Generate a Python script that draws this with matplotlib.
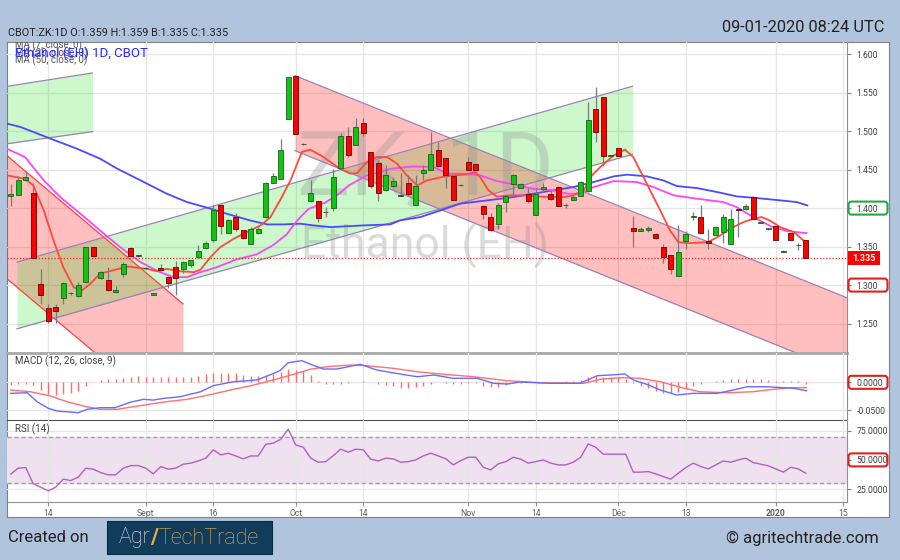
import numpy as np
import pandas as pd
import matplotlib
matplotlib.use("Agg")
import matplotlib.pyplot as plt
import matplotlib.transforms as mtransforms
from matplotlib.patches import Rectangle, FancyBboxPatch

plt.rcParams['font.family'] = ['Roboto', 'DejaVu Sans']

# trading calendar (exchange holidays skipped)
holidays = pd.to_datetime(['2019-09-02', '2019-11-28', '2019-12-25', '2020-01-01'])
days = pd.bdate_range('2019-08-07', '2020-01-15')
days = days[~days.isin(holidays)]

nan = np.nan
opens = [1.4155, 1.4175, 1.437, 1.4195, 1.302, 1.270, 1.2709, 1.2826, 1.2895, 1.2861,
         1.3034, 1.349, 1.3086, 1.3064, 1.2904, 1.3138, 1.348, 1.338, 1.3220, 1.2875,
         1.3228, 1.3108, 1.3238, 1.321, 1.326, 1.336, 1.348, 1.358, 1.4035, 1.368,
         1.389, 1.371, 1.354, 1.3675, 1.388, 1.433, 1.438, 1.516, 1.5715, 1.483,
         1.409, 1.409, 1.3945, 1.400, 1.4515, 1.493, 1.4825, 1.5105, 1.473, 1.458,
         1.424, 1.429, 1.416, 1.4325, 1.404, 1.445, 1.4495, 1.476, 1.465, 1.442,
         1.4295, 1.460, 1.457, 1.403, 1.389, 1.379, 1.408, 1.431, 1.426, 1.418,
         1.391, 1.4245, 1.418, 1.428, 1.4035, 1.411, 1.416, 1.422, 1.5285, 1.544,
         1.4675, 1.4785, nan, 1.3745, 1.370, 1.371, 1.3667, 1.350, 1.3385, 1.3116,
         1.357, 1.3885, 1.389, 1.357, 1.3655, 1.369, 1.3537, 1.3985, 1.399, 1.415,
         1.3805, 1.3725, 1.3766, 1.3435, 1.367, 1.352, 1.359]
highs = [1.431, 1.442, 1.448, 1.4325, 1.3207, 1.2752, 1.2752, 1.304, 1.2915, 1.304,
         1.349, 1.350, 1.3177, 1.323, 1.2986, 1.3294, 1.350, 1.339, 1.3235, 1.290,
         1.328, 1.312, 1.3313, 1.331, 1.333, 1.352, 1.357, 1.404, 1.405, 1.386,
         1.393, 1.372, 1.375, 1.376, 1.434, 1.445, 1.490, 1.570, 1.572, 1.484,
         1.437, 1.409, 1.401, 1.451, 1.498, 1.505, 1.5165, 1.5165, 1.473, 1.463,
         1.456, 1.4405, 1.446, 1.4425, 1.4425, 1.456, 1.499, 1.4855, 1.465, 1.442,
         1.431, 1.466, 1.457, 1.404, 1.394, 1.4065, 1.417, 1.444, 1.4325, 1.4265,
         1.4265, 1.4325, 1.424, 1.4285, 1.4065, 1.4165, 1.435, 1.5375, 1.557, 1.544,
         1.469, 1.4785, nan, 1.3896, 1.375, 1.377, 1.368, 1.354, 1.3385, 1.378,
         1.370, 1.395, 1.4035, 1.373, 1.377, 1.3925, 1.399, 1.3995, 1.405, 1.4155,
         1.382, 1.374, 1.3766, 1.345, 1.367, 1.355, 1.359]
lows = [1.403, 1.4165, 1.4355, 1.3346, 1.2752, 1.2514, 1.2514, 1.2752, 1.2875, 1.285,
        1.3025, 1.336, 1.3073, 1.292, 1.290, 1.311, 1.337, 1.337, 1.321, 1.2865,
        1.318, 1.2965, 1.2874, 1.316, 1.324, 1.334, 1.347, 1.356, 1.366, 1.367,
        1.370, 1.360, 1.353, 1.366, 1.387, 1.432, 1.438, 1.516, 1.4965, 1.482,
        1.408, 1.3815, 1.388, 1.396, 1.451, 1.466, 1.482, 1.494, 1.4256, 1.4096,
        1.422, 1.428, 1.416, 1.4155, 1.4035, 1.437, 1.449, 1.4535, 1.4256, 1.410,
        1.429, 1.450, 1.450, 1.3857, 1.370, 1.3727, 1.3945, 1.416, 1.4255, 1.406,
        1.391, 1.421, 1.411, 1.403, 1.3995, 1.410, 1.4155, 1.421, 1.4855, 1.455,
        1.467, 1.468, nan, 1.3493, 1.370, 1.369, 1.360, 1.3285, 1.3147, 1.3116,
        1.347, 1.384, 1.368, 1.347, 1.3645, 1.3545, 1.353, 1.362, 1.398, 1.3853,
        1.380, 1.372, 1.359, 1.343, 1.359, 1.346, 1.335]
closes = [1.418, 1.437, 1.440, 1.3346, 1.2874, 1.2536, 1.2666, 1.3021, 1.2895, 1.300,
          1.349, 1.3372, 1.3164, 1.2934, 1.2939, 1.3272, 1.338, 1.338, 1.3228, 1.2895,
          1.3199, 1.3025, 1.3086, 1.330, 1.332, 1.344, 1.355, 1.397, 1.3765, 1.385,
          1.3725, 1.361, 1.373, 1.373, 1.433, 1.442, 1.475, 1.570, 1.4965, 1.483,
          1.419, 1.387, 1.3945, 1.440, 1.494, 1.469, 1.505, 1.498, 1.429, 1.4195,
          1.443, 1.4355, 1.416, 1.418, 1.429, 1.449, 1.470, 1.455, 1.4435, 1.4105,
          1.4305, 1.450, 1.450, 1.392, 1.371, 1.404, 1.416, 1.443, 1.431, 1.4096,
          1.418, 1.428, 1.4115, 1.403, 1.4045, 1.415, 1.4335, 1.515, 1.4985, 1.468,
          1.4685, 1.468, nan, 1.370, 1.3723, 1.374, 1.3615, 1.336, 1.321, 1.3428,
          1.3667, 1.3895, 1.368, 1.355, 1.3753, 1.389, 1.386, 1.3975, 1.4026, 1.3853,
          1.3815, 1.3735, 1.359, 1.3445, 1.359, 1.352, 1.335]

# moving averages (bar index, price)
ma7_x = [-0.5, 1.9, 3.0, 4.4, 5.7, 7.0, 8.4, 9.5, 10.6, 11.9, 14.4, 15.7, 18.2, 19.5, 20.8,
         22.6, 24.4, 25.3, 26.6, 27.9, 29.7, 31.5, 33.3, 34.6, 35.9, 37.3, 38.8, 39.9, 41.7,
         43.9, 45.3, 46.2, 47.5, 48.8, 50.2, 51.5, 52.8, 54.2, 55.5, 57.3, 59.0, 60.8, 61.9,
         62.6, 63.7, 64.8, 66.6, 68.8, 71.5, 73.7, 75.0, 76.4, 77.5, 78.6, 80.4, 81.9, 83.0,
         84.8, 86.6, 87.9, 89.0, 90.2, 93.0, 94.6, 95.9, 97.7, 99.0, 100.1, 101.2, 102.6,
         104.4, 105.7, 106.0]
ma7_y = [1.4425, 1.438, 1.4295, 1.397, 1.358, 1.3233, 1.297, 1.293, 1.3017, 1.3147, 1.3212,
         1.324, 1.321, 1.318, 1.321, 1.318, 1.3168, 1.320, 1.336, 1.349, 1.360, 1.369, 1.3775,
         1.388, 1.410, 1.436, 1.4728, 1.476, 1.4663, 1.451, 1.4447, 1.4455, 1.460, 1.4663,
         1.4663, 1.4577, 1.4425, 1.4295, 1.436, 1.440, 1.4425, 1.4438, 1.4468, 1.440, 1.423,
         1.415, 1.4165, 1.4165, 1.4143, 1.4143, 1.4165, 1.423, 1.4425, 1.4533, 1.4685, 1.476,
         1.4663, 1.4317, 1.397, 1.371, 1.3558, 1.3545, 1.3558, 1.3645, 1.3732, 1.3818, 1.3862,
         1.3883, 1.384, 1.3753, 1.3688, 1.358, 1.356]
ma20_x = [-0.5, 1.9, 4.4, 6.6, 9.3, 11.9, 14.6, 17.3, 19.9, 21.7, 23.5, 25.3, 27.5, 30.0,
          32.8, 35.0, 36.8, 38.2, 39.7, 41.9, 43.7, 45.0, 47.5, 50.6, 53.7, 56.4, 58.2, 60.8,
          62.6, 64.8, 67.0, 69.7, 72.4, 74.2, 75.9, 77.7, 80.4, 83.5, 85.7, 88.4, 91.5, 95.0,
          96.8, 99.0, 101.3, 103.5, 106.1]
ma20_y = [1.477, 1.4663, 1.436, 1.4143, 1.3927, 1.371, 1.3493, 1.3298, 1.3168, 1.3103,
          1.3103, 1.3168, 1.3233, 1.333, 1.340, 1.352, 1.366, 1.384, 1.399, 1.407, 1.418,
          1.429, 1.4425, 1.451, 1.4542, 1.4533, 1.4447, 1.4447, 1.4425, 1.4351, 1.4308,
          1.4252, 1.423, 1.4187, 1.4187, 1.4273, 1.4351, 1.4338, 1.4273, 1.4165, 1.4122,
          1.4078, 1.4013, 1.3883, 1.3766, 1.3701, 1.3675]
ma50_x = [-0.5, 1.3, 5.3, 8.8, 11.9, 14.2, 17.3, 20.8, 23.5, 26.2, 28.8, 31.9, 34.2, 36.4,
          38.6, 40.4, 42.6, 47.0, 50.6, 51.9, 54.6, 57.3, 59.9, 63.5, 67.0, 71.5, 75.0, 77.7,
          80.4, 82.2, 84.8, 87.0, 88.8, 91.5, 94.2, 96.8, 99.5, 102.6, 104.8, 106.2]
ma50_y = [1.5097, 1.5053, 1.4902, 1.4772, 1.4642, 1.4512, 1.436, 1.4187, 1.4078, 1.4005,
          1.3927, 1.384, 1.3788, 1.3788, 1.3797, 1.3775, 1.3753, 1.3775, 1.3788, 1.384,
          1.3883, 1.397, 1.4057, 1.410, 1.4143, 1.4217, 1.4273, 1.4338, 1.4412, 1.4434,
          1.4412, 1.436, 1.4286, 1.426, 1.4208, 1.4152, 1.413, 1.410, 1.4078, 1.4035]

# trend channels: (start bar, end bar, top start, top end, bottom start, bottom end)
channel_green_a = (-0.5, 10.9, 1.5581, 1.5755, 1.4835, 1.4993)
channel_red_b = (-0.5, 22.96, 1.468, 1.2757, 1.3082, 1.116)
channel_green_c = (0.83, 82.9, 1.3298, 1.5582, 1.2432, 1.4698)
channel_red_d = (37.9, 111.5, 1.572, 1.2835, 1.4746, 1.1853)
last_price = 1.335

# MACD (12, 26, 9)
macd_x = [0.0, 2.2, 3.5, 5.0, 6.2, 9.0, 10.2, 11.9, 13.9, 15.9, 17.7, 19.0, 20.4, 22.6,
          25.3, 27.0, 29.7, 32.8, 34.2, 35.9, 37.0, 38.8, 40.6, 41.7, 43.5, 46.6, 48.8,
          51.9, 54.2, 56.4, 59.0, 62.2, 64.4, 66.2, 67.9, 71.9, 75.9, 78.2, 79.9, 81.9,
          83.0, 84.8, 86.6, 88.8, 91.0, 94.2, 95.9, 98.2, 100.8, 103.0, 104.4, 106.1]
macd_y = [-0.0199, -0.0188, -0.035, -0.0469, -0.0518, -0.0548, -0.0487, -0.0458, -0.0458,
          -0.0361, -0.0307, -0.032, -0.0289, -0.026, -0.017, -0.0061, 0.0011, 0.0042, 0.0114,
          0.021, 0.0354, 0.039, 0.0294, 0.024, 0.024, 0.0325, 0.0222, 0.015, 0.0101, 0.0132,
          0.0072, 0.0072, -0.0018, -0.0031, 0.0005, -0.0018, -0.0018, 0.0119, 0.0132, 0.015,
          0.0042, -0.0036, -0.0139, -0.0229, -0.0199, -0.0199, -0.0152, -0.008, -0.008,
          -0.0097, -0.0108, -0.0152]
signal_x = [0.0, 2.6, 5.3, 7.5, 9.7, 11.9, 14.2, 16.4, 18.6, 20.8, 23.5, 27.0, 29.7, 32.4,
            35.0, 37.7, 39.9, 42.2, 45.3, 47.5, 51.0, 54.2, 57.3, 61.7, 66.2, 70.6, 76.4,
            78.6, 81.3, 83.9, 86.6, 89.3, 91.9, 95.5, 99.0, 101.7, 103.9, 106.1]
signal_y = [-0.0139, -0.017, -0.0247, -0.035, -0.0428, -0.0487, -0.0487, -0.044, -0.0392,
            -0.035, -0.0307, -0.0211, -0.0126, -0.0049, 0.0042, 0.0144, 0.0235, 0.0282,
            0.0312, 0.030, 0.0253, 0.0191, 0.015, 0.0101, 0.0029, -0.0007, -0.0018, 0.0054,
            0.0083, 0.0072, 0.0011, -0.009, -0.017, -0.0188, -0.017, -0.0126, -0.0097, -0.0097]
macd_hist = [-0.0048, -0.0036, -0.0036, -0.0048, -0.0138, -0.0217, -0.0229, -0.0211, -0.0187, -0.015,
             -0.006, 0.0, 0.0042, 0.0054, 0.0054, 0.0084, 0.0102, 0.012, 0.0102, 0.009,
             0.009, 0.009, 0.009, 0.009, 0.0102, 0.0114, 0.0144, 0.0163, 0.0175, 0.0163,
             0.0163, 0.0132, 0.0114, 0.0114, 0.0132, 0.0144, 0.0193, 0.0235, 0.0223, 0.0205,
             0.0132, 0.003, -0.0036, -0.0036, -0.0024, -0.0018, 0.0, 0.003, 0.0, -0.0036,
             -0.0048, -0.0066, -0.0096, -0.0096, -0.0078, -0.006, -0.0036, 0.0, -0.0018, -0.0024,
             -0.0036, -0.001, -0.001, -0.0066, -0.009, -0.0078, -0.0048, -0.0018, -0.0006, 0.0,
             0.0, 0.0006, 0.0006, 0.0006, 0.0024, 0.0018, 0.004, 0.0102, 0.012, 0.0102,
             0.009, 0.009, 0.006, -0.0018, -0.006, -0.0108, -0.015, -0.0187, -0.0199, -0.0169,
             -0.0096, -0.006, -0.0024, 0.0, 0.0018, 0.0042, 0.0054, 0.0066, 0.0066, 0.0066,
             0.0054, 0.0042, 0.0018, 0.0018, 0.0018, 0.0018, -0.003]

# RSI (14)
rsi = [37.8, 42.9, 43.4, 29.5, 26.6, 23.5, 26.6, 33.5, 32.3, 35.2,
       42.9, 42.0, 39.1, 37.2, 37.2, 42.9, 45.1, 45.1, 42.9, 38.0,
       44.3, 42.0, 42.9, 46.3, 47.2, 49.1, 51.5, 58.6, 54.3, 55.7,
       53.4, 50.9, 53.4, 53.4, 63.4, 64.3, 67.7, 76.3, 62.8, 60.8,
       51.5, 48.0, 48.5, 53.7, 59.2, 56.6, 59.2, 58.6, 50.6, 49.1,
       51.5, 50.9, 48.0, 48.5, 50.0, 53.4, 55.7, 53.4, 51.0, 45.7,
       49.4, 52.3, 52.3, 43.7, 41.4, 46.6, 48.5, 52.3, 50.6, 47.2,
       48.5, 50.0, 47.2, 45.7, 45.7, 48.0, 52.3, 63.7, 60.8, 54.9,
       54.9, 54.9, 54.9, 39.5, 39.5, 40.0, 38.0, 35.7, 33.5, 38.6,
       43.4, 47.2, 44.3, 42.3, 45.7, 49.1, 48.0, 50.0, 51.5, 47.7,
       46.3, 44.9, 42.3, 39.5, 43.7, 42.3, 38.6]

tick_dates = ['2019-08-14', '2019-09-03', '2019-09-16', '2019-10-01', '2019-10-14', '2019-11-01',
              '2019-11-14', '2019-12-02', '2019-12-13', '2020-01-02', '2020-01-15']
tick_labels = ['14', 'Sept', '16', 'Oct', '14', 'Nov', '14', 'Déc', '13', '2020', '15']
tick_pos = [days.get_loc(pd.Timestamp(d)) for d in tick_dates]

price_ticks = [1.25, 1.30, 1.35, 1.40, 1.45, 1.50, 1.55, 1.60]
macd_ticks = [-0.05, 0.0]
rsi_ticks = [25, 50, 75]

W, H = 900, 560
fig = plt.figure(figsize=(9, 5.6), dpi=100)
fig.patch.set_facecolor('#b0c4de')
fig.add_artist(Rectangle((7 / W, 1 - 517 / H), 882 / W, 475 / H, transform=fig.transFigure,
                         fc='white', ec='#808080', lw=0.8, zorder=-1))

def px_axes(top, bottom):
    return fig.add_axes([7 / W, 1 - bottom / H, 840 / W, (bottom - top) / H])

ax_p = px_axes(42, 353)
ax_m = px_axes(353, 420)
ax_r = px_axes(420, 502)

for ax in (ax_p, ax_m, ax_r):
    ax.set_facecolor('none')
    ax.set_xlim(-0.5, 111.5)
    ax.yaxis.tick_right()
    ax.tick_params(axis='y', length=3, pad=4, labelsize=6.2, labelcolor='#404040', color='#808080')
    ax.set_xticks(tick_pos)
    ax.grid(True, color='#e6e6e6', lw=0.9, zorder=0)
    ax.set_axisbelow(True)
    for s in ('left', 'top'):
        ax.spines[s].set_visible(False)
    ax.spines['right'].set_color('#909090')
for ax in (ax_p, ax_m):
    ax.tick_params(axis='x', length=0, labelbottom=False)

ax_p.spines['bottom'].set_color('#a8a8a8')
ax_p.spines['bottom'].set_linewidth(2)
ax_m.spines['bottom'].set_color('#505050')
ax_r.spines['bottom'].set_color('#909090')

# ---------- price panel ----------
ax_p.set_ylim(1.2118, 1.6157)
ax_p.set_yticks(price_ticks, [f'{v:.3f}' for v in price_ticks])

def channel(ax, ch, fill, alpha, line):
    x0, x1, t0, t1, b0, b1 = ch
    ax.fill_between([x0, x1], [b0, b1], [t0, t1], color=fill, alpha=alpha, lw=0, zorder=1)
    ax.plot([x0, x1], [t0, t1], color=line, lw=0.9, zorder=1.2)
    ax.plot([x0, x1], [b0, b1], color=line, lw=0.9, zorder=1.2)

channel(ax_p, channel_green_a, '#00dd00', 0.2, '#9b80b8')
channel(ax_p, channel_red_b, '#ff0000', 0.25, '#ff4040')
channel(ax_p, channel_green_c, '#00dd00', 0.2, '#9b80b8')
channel(ax_p, channel_red_d, '#ff0000', 0.25, '#9b80b8')

ax_p.text(0.4976, 0.588, 'ZK, 1D', transform=ax_p.transAxes, ha='center', va='center',
          fontsize=64, color='#909090', alpha=0.32, zorder=1.5)
ax_p.text(0.4976, 0.344, 'Ethanol (EH)', transform=ax_p.transAxes, ha='center', va='center',
          fontsize=32, color='#909090', alpha=0.32, zorder=1.5)

ax_p.plot(ma50_x, ma50_y, color='#4a4aff', lw=1.3, zorder=2)
ax_p.plot(ma20_x, ma20_y, color='#ff44ff', lw=1.3, zorder=2)
ax_p.plot(ma7_x, ma7_y, color='#ff4a3a', lw=1.3, zorder=2.1)
ax_p.axhline(last_price, color='#ff2020', lw=0.9, ls=(0, (1, 1.5)), zorder=2)

o = np.array(opens); h = np.array(highs); l = np.array(lows); c = np.array(closes)
x = np.arange(len(o))
ok = ~np.isnan(o)
x, o, h, l, c = x[ok], o[ok], h[ok], l[ok], c[ok]
up = c > o
down = c < o
flat = ~(up | down)
ax_p.vlines(x, l, h, color='#7a7a7a', lw=0.9, zorder=3)
for m, fc, ec in ((up, '#11c411', '#1d5e1d'), (down, '#ff0000', '#6e0000'), (flat, '#404040', '#404040')):
    body = np.maximum(np.abs(c[m] - o[m]), 0.0007)
    ax_p.bar(x[m], body, bottom=np.minimum(o[m], c[m]), width=0.62, color=fc,
             edgecolor=ec, lw=0.6, zorder=4)

ax_p.text(0.0095, 0.99, 'MA (7, close, 0)', transform=ax_p.transAxes, fontsize=7,
          color='#555555', va='center', clip_on=True)
ax_p.text(0.0095, 0.963, 'MA (20, close, 0)', transform=ax_p.transAxes, fontsize=7,
          color='#555555', va='center')
ax_p.text(0.0095, 0.963, 'Ethanol (EH) 1D, CBOT', transform=ax_p.transAxes, fontsize=9.5,
          color='#2a2aff', va='center')
ax_p.text(0.0095, 0.94, 'MA (50, close, 0)', transform=ax_p.transAxes, fontsize=7,
          color='#555555', va='center')

# ---------- MACD panel ----------
ax_m.set_ylim(-0.068, 0.0529)
ax_m.set_yticks(macd_ticks, [f'{v:.4f}' for v in macd_ticks])
ax_m.vlines(np.arange(len(macd_hist)), 0, macd_hist, color='#ff6a6a', lw=1.0, zorder=2)
ax_m.plot(signal_x, signal_y, color='#ff7070', lw=1.0, zorder=3)
ax_m.plot(macd_x, macd_y, color='#6a6aff', lw=1.0, zorder=3)
ax_m.text(0.0095, 0.96, 'MACD (12, 26, close, 9)', transform=ax_m.transAxes, fontsize=7,
          color='#404040', va='top')

# ---------- RSI panel ----------
ax_r.set_ylim(13.9, 84.2)
ax_r.set_yticks(rsi_ticks, [f'{v:.4f}' for v in rsi_ticks])
ax_r.axhspan(30, 70, color='#f0e1f1', zorder=0.5)
for lvl in (30, 70):
    ax_r.axhline(lvl, color='#a0a0a0', lw=1, ls=(0, (3, 2)), zorder=1)
ax_r.plot(np.arange(len(rsi)), rsi, color='#b45ec4', lw=1.0, zorder=3)
ax_r.text(0.0095, 0.96, 'RSI (14)', transform=ax_r.transAxes, fontsize=7,
          color='#404040', va='top')
ax_r.set_xticklabels(tick_labels)
ax_r.tick_params(axis='x', length=3, pad=2, labelsize=6.2, labelcolor='#606060', color='#909090')
for t, lab in zip(ax_r.get_xticklabels(), tick_labels):
    if lab == '2020':
        t.set_fontweight('bold')

# ---------- boxed axis labels ----------
def tag(ax, yval, edge):
    ypix = ax.transData.transform((0, yval))[1]
    xpix = ax.transAxes.transform((1, 0))[0]
    box = FancyBboxPatch((xpix + 1.5, ypix - 6.5), 39, 13, boxstyle='round,pad=0,rounding_size=3',
                         transform=mtransforms.IdentityTransform(), fc='none', ec=edge, lw=1.5, zorder=5)
    fig.add_artist(box)

tag(ax_p, 1.40, '#22a845')
tag(ax_p, 1.30, '#e02020')
tag(ax_m, 0.0, '#e02020')
tag(ax_r, 50, '#e02020')
ypix = ax_p.transData.transform((0, last_price))[1]
xpix = ax_p.transAxes.transform((1, 0))[0]
fig.add_artist(Rectangle((xpix + 1, ypix - 7), 32, 14, transform=mtransforms.IdentityTransform(),
                         fc='#ff0000', ec='none', zorder=5))
fig.text((xpix + 17) / W, ypix / H, f'{last_price:.3f}', ha='center', va='center', fontsize=6.5,
         color='white', fontweight='bold', zorder=6)

# ---------- header and footer ----------
fig.text(8 / W, 1 - 33 / H, 'CBOT:ZK:1D O:1.359 H:1.359 B:1.335 C:1.335', fontsize=7.8,
         color='#222222', va='center')
fig.text(884 / W, 1 - 28 / H, '09-01-2020 08:24 UTC', fontsize=11.8, color='#222222',
         ha='right', va='center')
fig.text(8 / W, 1 - 538 / H, 'Created on', fontsize=12, color='#222222', va='center')
fig.add_artist(Rectangle((107 / W, 1 - 554 / H), 165 / W, 33 / H, transform=fig.transFigure,
                         fc='#123c5c', ec='#0a2a40', lw=0.8))
fig.text(119 / W, 1 - 538 / H, 'Agr', fontsize=15.5, color='#e6e6e6', va='center', fontweight='light')
fig.text(150 / W, 1 - 538 / H, '/', fontsize=15.5, color='#e8b04a', va='center', fontweight='bold')
fig.text(158 / W, 1 - 538 / H, 'TechTrade', fontsize=15.5, color='#e8b04a', va='center',
         fontweight='light')
fig.text(879 / W, 1 - 538 / H, '© agritechtrade.com', fontsize=12, color='#222222',
         ha='right', va='center')

fig.savefig('out.png', dpi=100, facecolor=fig.get_facecolor())
